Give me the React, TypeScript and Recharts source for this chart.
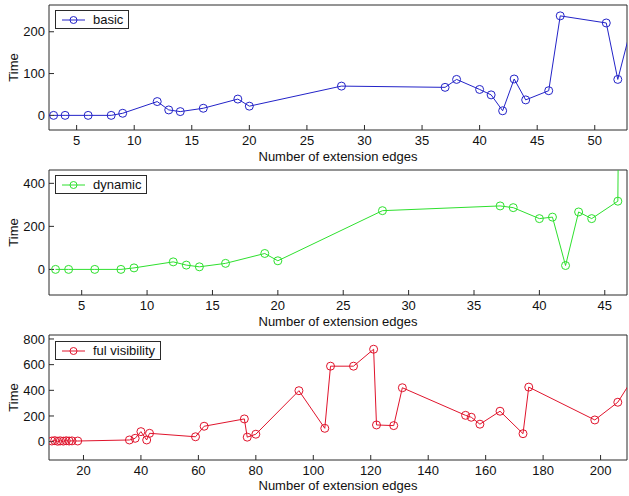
import React from 'react';
import { LineChart, Line, XAxis, YAxis, Legend, CartesianGrid } from 'recharts';

// ---- data ----
const basicX = [3, 4, 6, 8, 9, 12, 13, 14, 16, 19, 20, 28, 37, 38, 40, 41, 42, 43, 44, 46, 47, 51, 52, 54];
const basicY = [0, 0, 0, 0, 5, 33, 13, 9, 17, 39, 22, 70, 67, 86, 62, 49, 11, 87, 37, 59, 238, 221, 86, 300];

const dynamicX = [3, 4, 6, 8, 9, 12, 13, 14, 16, 19, 20, 28, 37, 38, 40, 41, 42, 43, 44, 46, 47];
const dynamicY = [0, 0, 0, 0, 7, 35, 20, 12, 28, 74, 40, 273, 295, 287, 236, 243, 18, 267, 236, 317, 8000];

const fullX = [9, 10, 11, 12, 13, 14, 15, 16, 18, 36, 38, 40, 42, 43, 59, 62, 76, 77, 80, 95, 104, 106, 114, 121, 122, 128, 131, 153, 155, 158, 165, 173, 175, 198, 206, 214];
const fullY = [5, 8, 3, 6, 4, 7, 5, 6, 5, 13, 26, 78, 13, 65, 38, 120, 177, 35, 58, 397, 104, 588, 588, 720, 130, 125, 420, 205, 190, 136, 237, 62, 425, 169, 307, 590];

const basicXTicks = [5, 10, 15, 20, 25, 30, 35, 40, 45, 50];
const basicYTicks = [0, 100, 200];
const dynamicXTicks = [5, 10, 15, 20, 25, 30, 35, 40, 45];
const dynamicYTicks = [0, 200, 400];
const fullXTicks = [20, 40, 60, 80, 100, 120, 140, 160, 180, 200];
const fullYTicks = [0, 200, 400, 600, 800];

const seriesNames = ['basic', 'dynamic', 'ful visibility'];
const xTitle = 'Number of extension edges';
const yTitle = 'Time';

// ---- style / layout ----
const FONT = '"Liberation Sans", Arial, Helvetica, sans-serif';
const FRAME = '#2a2a2a';
const TEXT = '#111';
const W = 629;
const PLOT_TOP = 5;
const PLOT_LEFT = 49;
const PLOT_RIGHT = 627;
const PLOT_H = 125;
const TICK_LEN = 5;

const rows = (xs: number[], ys: number[]) => xs.map((x, i) => ({ x, y: ys[i] }));

// frame lines at the top and right edges of the plot area, derived from the chart's own offset
const topEdge = (p: any) => [p.offset.top];
const rightEdge = (p: any) => [p.offset.left + p.offset.width];

function LegendBox({ label, color }: { label: string; color: string }) {
  return (
    <div
      style={{
        display: 'inline-flex',
        alignItems: 'center',
        boxSizing: 'border-box',
        border: `1px solid ${FRAME}`,
        background: '#fff',
        height: 19,
        padding: '0 5px 0 6px',
        fontFamily: FONT,
        fontSize: 13,
        color: TEXT,
        whiteSpace: 'nowrap',
        lineHeight: '17px',
      }}
    >
      <svg width={23} height={10} style={{ display: 'block' }}>
        <line x1={0} y1={5} x2={23} y2={5} stroke={color} strokeWidth={1} />
        <circle cx={11.5} cy={5} r={3.5} fill="none" stroke={color} strokeWidth={1} />
      </svg>
      <span style={{ marginLeft: 8 }}>{label}</span>
    </div>
  );
}

function YTitle(props: any) {
  const vb = props.viewBox || {};
  const cx = 13.5;
  const cy = vb.y + vb.height / 2;
  return (
    <text
      x={cx}
      y={cy}
      transform={`rotate(-90, ${cx}, ${cy})`}
      textAnchor="middle"
      dominantBaseline="central"
      fill={TEXT}
      fontSize={13}
      fontFamily={FONT}
    >
      {yTitle}
    </text>
  );
}

type PanelProps = {
  data: { x: number; y: number }[];
  color: string;
  name: string;
  xDomain: [number, number];
  xTicks: number[];
  yDomain: [number, number];
  yTicks: number[];
  height: number;
  labelOffset: number;
  legendTop: number;
};

function Panel({ data, color, name, xDomain, xTicks, yDomain, yTicks, height, labelOffset, legendTop }: PanelProps) {
  const xAxisH = height - PLOT_TOP - PLOT_H;
  const tickStyle = { fill: TEXT, fontSize: 13, fontFamily: FONT };
  return (
    <div style={{ position: 'relative', width: W, height }}>
      <LineChart width={W} height={height} data={data} margin={{ top: PLOT_TOP, right: W - PLOT_RIGHT, bottom: 0, left: 0 }}>
        <CartesianGrid
          stroke={FRAME}
          strokeDasharray=""
          horizontalCoordinatesGenerator={topEdge}
          verticalCoordinatesGenerator={rightEdge}
        />
        <XAxis
          dataKey="x"
          type="number"
          domain={xDomain}
          ticks={xTicks}
          interval={0}
          allowDataOverflow
          height={xAxisH}
          tickSize={-TICK_LEN}
          tickMargin={11}
          stroke={FRAME}
          tick={tickStyle}
          label={{ value: xTitle, position: 'insideBottom', offset: labelOffset, fill: TEXT, fontSize: 13, fontFamily: FONT }}
        />
        <YAxis
          type="number"
          domain={yDomain}
          ticks={yTicks}
          interval={0}
          allowDataOverflow
          width={PLOT_LEFT}
          tickSize={-TICK_LEN}
          tickMargin={9}
          stroke={FRAME}
          tick={tickStyle}
          label={<YTitle />}
        />
        <Legend
          layout="horizontal"
          verticalAlign="middle"
          align="center"
          wrapperStyle={{ left: 55, top: legendTop, width: 'auto', height: 'auto' }}
          content={() => <LegendBox label={name} color={color} />}
        />
        <Line
          dataKey="y"
          name={name}
          stroke={color}
          strokeWidth={1}
          dot={{ r: 4, stroke: color, fill: 'none', strokeWidth: 1 }}
          activeDot={false}
          isAnimationActive={false}
        />
      </LineChart>
    </div>
  );
}

export default function App() {
  return (
    <div style={{ position: 'absolute', left: 0, top: 0, width: W, height: 496, background: '#fff', overflow: 'hidden' }}>
      <Panel
        data={rows(basicX, basicY)}
        color="#2323c8"
        name={seriesNames[0]}
        xDomain={[2.6, 52.8]}
        xTicks={basicXTicks}
        yDomain={[-35, 264]}
        yTicks={basicYTicks}
        height={165}
        labelOffset={4}
        legendTop={10}
      />
      <Panel
        data={rows(dynamicX, dynamicY)}
        color="#2ee02e"
        name={seriesNames[1]}
        xDomain={[2.5, 46.7]}
        xTicks={dynamicXTicks}
        yDomain={[-119, 462]}
        yTicks={dynamicYTicks}
        height={165}
        labelOffset={4}
        legendTop={10}
      />
      <Panel
        data={rows(fullX, fullY)}
        color="#e0142c"
        name={seriesNames[2]}
        xDomain={[8, 209.2]}
        xTicks={fullXTicks}
        yDomain={[-143, 831]}
        yTicks={fullYTicks}
        height={166}
        labelOffset={6}
        legendTop={11}
      />
    </div>
  );
}
